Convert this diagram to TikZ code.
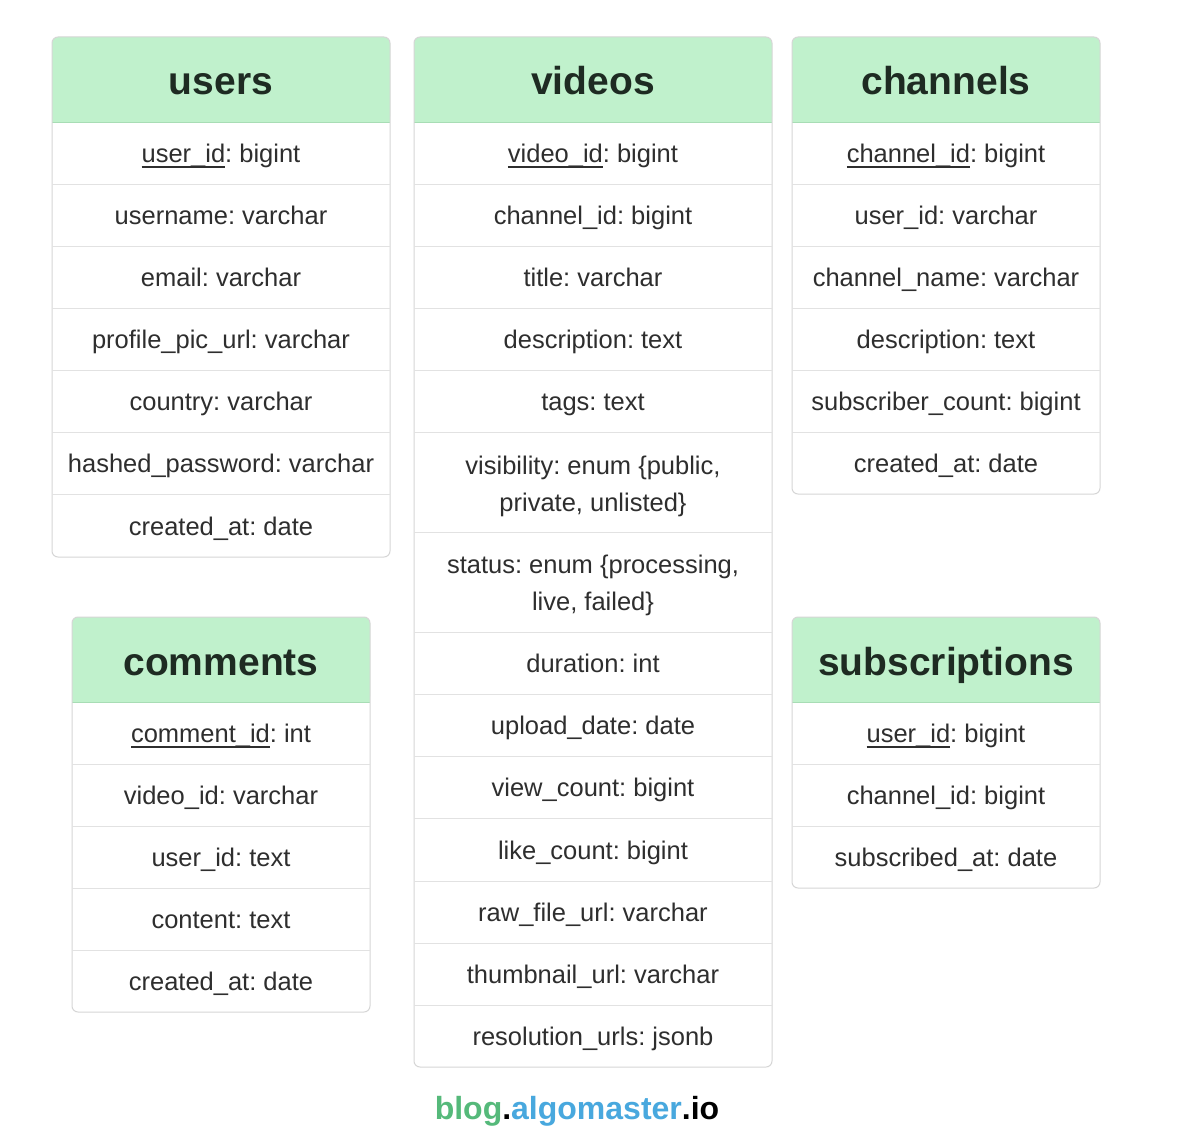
\documentclass[tikz,border=0pt]{standalone}
\usepackage{fontspec}
\setmainfont{Liberation Sans}
\frenchspacing
\definecolor{hdrfill}{HTML}{C0F1CC}
\definecolor{hdrline}{HTML}{A8DDB5}
\definecolor{hdrtext}{HTML}{1E2B22}
\definecolor{bodytext}{HTML}{2E2E2E}
\definecolor{frameline}{HTML}{D6D6D6}
\definecolor{sepline}{HTML}{E2E2E2}
\definecolor{logogreen}{HTML}{55B97A}
\definecolor{logoblue}{HTML}{48A8DE}
\newcommand\pkey[1]{\setbox0\hbox{#1}\rlap{\color{bodytext}\rule[-5.5pt]{\wd0}{1.6pt}}\box0}
% frame: x1, x2, top, header bottom, bottom
\newcommand\tblframe[5]{%
  \fill[white,rounded corners=6pt] (#1,#3) rectangle (#2,#5);
  \fill[hdrfill,rounded corners=6pt] (#1,#3) rectangle (#2,#4);
  \fill[hdrfill] (#1,#4-12) rectangle (#2,#4);
  \draw[hdrline,line width=0.8pt] (#1,#4) -- (#2,#4);
  \draw[frameline,line width=1pt,rounded corners=6pt] (#1,#3) rectangle (#2,#5);
}
\begin{document}
\begin{tikzpicture}[x=1pt,y=-1pt,
  hdr/.style={text=hdrtext,font=\bfseries\fontsize{39}{44}\selectfont,inner sep=0pt,anchor=base,yshift=-15pt},
  rowtxt/.style={text=bodytext,font=\fontsize{25.5}{37}\selectfont,inner sep=0pt,align=center,anchor=base,yshift=-9.5pt},
  sep/.style={sepline,line width=1pt}]
\useasboundingbox (0,0) rectangle (1184,1132);
\fill[white] (0,0) rectangle (1184,1132);

% ---------- users ----------
\tblframe{52}{390}{37}{122}{557}
\foreach \y in {184,246,308,370,432,494} \draw[sep] (52,\y) -- (390,\y);
\node[hdr] (users-h) at (221,80) {users};
\node[rowtxt] (users-1) at (221,153) {\pkey{user\_id}: bigint};
\node[rowtxt] (users-2) at (221,215) {username: varchar};
\node[rowtxt] (users-3) at (221,277) {email: varchar};
\node[rowtxt] (users-4) at (221,339) {profile\_pic\_url: varchar};
\node[rowtxt] (users-5) at (221,401) {country: varchar};
\node[rowtxt] (users-6) at (221,463) {hashed\_password: varchar};
\node[rowtxt] (users-7) at (221,526) {created\_at: date};

% ---------- videos ----------
\tblframe{414}{772}{37}{122}{1067}
\foreach \y in {184,246,308,370,432,532,632,694,756,818,881,943,1005} \draw[sep] (414,\y) -- (772,\y);
\node[hdr] (videos-h) at (593,80) {videos};
\node[rowtxt] (videos-1) at (593,153) {\pkey{video\_id}: bigint};
\node[rowtxt] (videos-2) at (593,215) {channel\_id: bigint};
\node[rowtxt] (videos-3) at (593,277) {title: varchar};
\node[rowtxt] (videos-4) at (593,339) {description: text};
\node[rowtxt] (videos-5) at (593,401) {tags: text};
\node[rowtxt] (videos-6) at (593,502) {visibility: enum \{public,\\private, unlisted\}};
\node[rowtxt] (videos-7) at (593,601) {status: enum \{processing,\\live, failed\}};
\node[rowtxt] (videos-8) at (593,663) {duration: int};
\node[rowtxt] (videos-9) at (593,725) {upload\_date: date};
\node[rowtxt] (videos-10) at (593,787) {view\_count: bigint};
\node[rowtxt] (videos-11) at (593,850) {like\_count: bigint};
\node[rowtxt] (videos-12) at (593,912) {raw\_file\_url: varchar};
\node[rowtxt] (videos-13) at (593,974) {thumbnail\_url: varchar};
\node[rowtxt] (videos-14) at (593,1036) {resolution\_urls: jsonb};

% ---------- channels ----------
\tblframe{792}{1100}{37}{122}{494}
\foreach \y in {184,246,308,370,432} \draw[sep] (792,\y) -- (1100,\y);
\node[hdr] (channels-h) at (946,80) {channels};
\node[rowtxt] (channels-1) at (946,153) {\pkey{channel\_id}: bigint};
\node[rowtxt] (channels-2) at (946,215) {user\_id: varchar};
\node[rowtxt] (channels-3) at (946,277) {channel\_name: varchar};
\node[rowtxt] (channels-4) at (946,339) {description: text};
\node[rowtxt] (channels-5) at (946,401) {subscriber\_count: bigint};
\node[rowtxt] (channels-6) at (946,463) {created\_at: date};

% ---------- comments ----------
\tblframe{72}{370}{617}{702}{1012}
\foreach \y in {764,826,888,950} \draw[sep] (72,\y) -- (370,\y);
\node[hdr] (comments-h) at (221,660) {comments};
\node[rowtxt] (comments-1) at (221,733) {\pkey{comment\_id}: int};
\node[rowtxt] (comments-2) at (221,795) {video\_id: varchar};
\node[rowtxt] (comments-3) at (221,857) {user\_id: text};
\node[rowtxt] (comments-4) at (221,919) {content: text};
\node[rowtxt] (comments-5) at (221,981) {created\_at: date};

% ---------- subscriptions ----------
\tblframe{792}{1100}{617}{702}{888}
\foreach \y in {764,826} \draw[sep] (792,\y) -- (1100,\y);
\node[hdr] (subs-h) at (946,660) {subscriptions};
\node[rowtxt] (subs-1) at (946,733) {\pkey{user\_id}: bigint};
\node[rowtxt] (subs-2) at (946,795) {channel\_id: bigint};
\node[rowtxt] (subs-3) at (946,857) {subscribed\_at: date};

% ---------- footer ----------
\node[font=\bfseries\fontsize{32}{38}\selectfont,inner sep=0pt,anchor=base] (logo) at (577,1119)
  {\textcolor{logogreen}{blog}.\textcolor{logoblue}{algomaster}.io};
\end{tikzpicture}
\end{document}
